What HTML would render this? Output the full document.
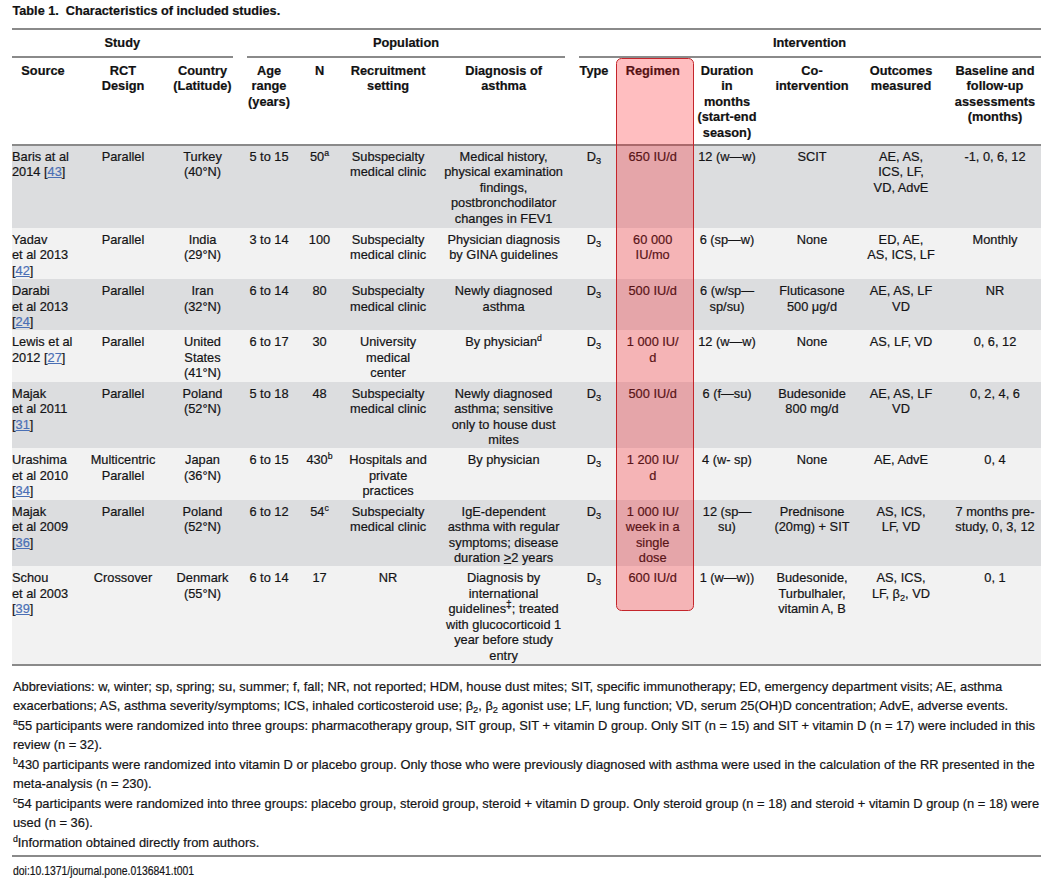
<!DOCTYPE html>
<html><head><meta charset="utf-8"><title>Table 1</title><style>
*{margin:0;padding:0;box-sizing:border-box}
html,body{width:1060px;height:893px;overflow:hidden;background:#fff}
body{position:relative;font-family:"Liberation Sans",sans-serif;color:#141416;-webkit-text-stroke:0.2px currentColor}
.bg{position:absolute;left:12px;width:1028.7px}
.r{position:absolute}
.t{position:absolute;font-size:12.8px;line-height:15.5px;white-space:nowrap}
.c{text-align:center}
.b{font-weight:bold;color:#111}
sup{font-size:0.68em;vertical-align:0.58em;line-height:0}
.dg{font-size:0.8em;vertical-align:0.45em}
sub{font-size:0.72em;vertical-align:-0.36em;line-height:0}
u{color:#4a6fb5;text-decoration:underline;text-decoration-thickness:1px;text-underline-offset:1px}
.ge{text-decoration:underline;text-decoration-thickness:1px}
.hl{position:absolute;left:616px;top:57.6px;width:78px;height:553px;border:1.2px solid #c4252b;border-radius:5.5px;background:rgba(255,20,30,0.28)}
.title{position:absolute;left:12.5px;font-size:12.7px;line-height:16px;font-weight:bold;white-space:nowrap;color:#111}
.fn{position:absolute;left:12.9px;font-size:12.9px;line-height:19.3px;white-space:nowrap}
.doi{position:absolute;left:12.5px;font-size:13px;line-height:16px;white-space:nowrap;transform:scaleX(0.80);transform-origin:0 0}
</style></head>
<body>
<div class="bg" style="top:144.6px;height:83.10px;background:#dcdddf"></div>
<div class="bg" style="top:227.7px;height:51.20px;background:#f2f2f2"></div>
<div class="bg" style="top:278.9px;height:51.30px;background:#dcdddf"></div>
<div class="bg" style="top:330.2px;height:51.40px;background:#f2f2f2"></div>
<div class="bg" style="top:381.6px;height:66.50px;background:#dcdddf"></div>
<div class="bg" style="top:448.1px;height:51.50px;background:#f2f2f2"></div>
<div class="bg" style="top:499.6px;height:66.30px;background:#dcdddf"></div>
<div class="bg" style="top:565.9px;height:98.10px;background:#f2f2f2"></div>
<div class="r" style="left:12px;width:1028.7px;top:28.0px;height:2px;background:#8a8a8a"></div>
<div class="r" style="left:12px;width:221px;top:56.2px;height:1.8px;background:#8a8a8a"></div>
<div class="r" style="left:247px;width:318px;top:56.2px;height:1.8px;background:#8a8a8a"></div>
<div class="r" style="left:579px;width:461.70000000000005px;top:56.2px;height:1.8px;background:#8a8a8a"></div>
<div class="r" style="left:12px;width:1028.7px;top:144.2px;height:1.7px;background:#8a8a8a"></div>
<div class="r" style="left:12px;width:1028.7px;top:663.6px;height:2px;background:#8a8a8a"></div>
<div class="r" style="left:12px;width:1028.7px;top:855.0px;height:2px;background:#8a8a8a"></div>
<div class="t b c" style="left:42.3px;width:160px;top:34.71px">Study</div>
<div class="t b c" style="left:326px;width:160px;top:34.71px">Population</div>
<div class="t b c" style="left:729.5px;width:160px;top:34.71px">Intervention</div>
<div class="t b c" style="left:3px;width:80px;top:62.51px">Source</div>
<div class="t b c" style="left:68.00px;width:110px;top:62.51px">RCT<br>Design</div>
<div class="t b c" style="left:162.50px;width:80px;top:62.51px">Country<br>(Latitude)</div>
<div class="t b c" style="left:239.00px;width:60px;top:62.51px">Age<br>range<br>(years)</div>
<div class="t b c" style="left:299.50px;width:40px;top:62.51px">N</div>
<div class="t b c" style="left:338.10px;width:100px;top:62.51px">Recruitment<br>setting</div>
<div class="t b c" style="left:433.60px;width:140px;top:62.51px">Diagnosis of<br>asthma</div>
<div class="t b c" style="left:574.00px;width:40px;top:62.51px">Type</div>
<div class="t b c" style="left:612.70px;width:80px;top:62.51px">Regimen</div>
<div class="t b c" style="left:687.00px;width:80px;top:62.51px">Duration<br>in<br>months<br>(start-end<br>season)</div>
<div class="t b c" style="left:762.00px;width:100px;top:62.51px">Co-<br>intervention</div>
<div class="t b c" style="left:856.00px;width:90px;top:62.51px">Outcomes<br>measured</div>
<div class="t b c" style="left:945.00px;width:100px;top:62.51px">Baseline and<br>follow-up<br>assessments<br>(months)</div>
<div class="t" style="left:12.0px;top:148.81px;text-align:left">Baris at al<br>2014 [<u>43</u>]</div>
<div class="t c" style="left:68.00px;width:110px;top:148.81px">Parallel</div>
<div class="t c" style="left:162.50px;width:80px;top:148.81px">Turkey<br>(40°N)</div>
<div class="t c" style="left:239.00px;width:60px;top:148.81px">5 to 15</div>
<div class="t c" style="left:299.50px;width:40px;top:148.81px">50<sup>a</sup></div>
<div class="t c" style="left:338.10px;width:100px;top:148.81px">Subspecialty<br>medical clinic</div>
<div class="t c" style="left:433.60px;width:140px;top:148.81px">Medical history,<br>physical examination<br>findings,<br>postbronchodilator<br>changes in FEV1</div>
<div class="t c" style="left:574.00px;width:40px;top:148.81px">D<sub>3</sub></div>
<div class="t c" style="left:612.70px;width:80px;top:148.81px">650 IU/d</div>
<div class="t c" style="left:687.00px;width:80px;top:148.81px">12 (w—w)</div>
<div class="t c" style="left:762.00px;width:100px;top:148.81px">SCIT</div>
<div class="t c" style="left:856.00px;width:90px;top:148.81px">AE, AS,<br>ICS, LF,<br>VD, AdvE</div>
<div class="t c" style="left:945.00px;width:100px;top:148.81px">-1, 0, 6, 12</div>
<div class="t" style="left:12.0px;top:231.91px;text-align:left">Yadav<br>et al 2013<br>[<u>42</u>]</div>
<div class="t c" style="left:68.00px;width:110px;top:231.91px">Parallel</div>
<div class="t c" style="left:162.50px;width:80px;top:231.91px">India<br>(29°N)</div>
<div class="t c" style="left:239.00px;width:60px;top:231.91px">3 to 14</div>
<div class="t c" style="left:299.50px;width:40px;top:231.91px">100</div>
<div class="t c" style="left:338.10px;width:100px;top:231.91px">Subspecialty<br>medical clinic</div>
<div class="t c" style="left:433.60px;width:140px;top:231.91px">Physician diagnosis<br>by GINA guidelines</div>
<div class="t c" style="left:574.00px;width:40px;top:231.91px">D<sub>3</sub></div>
<div class="t c" style="left:612.70px;width:80px;top:231.91px">60 000<br>IU/mo</div>
<div class="t c" style="left:687.00px;width:80px;top:231.91px">6 (sp—w)</div>
<div class="t c" style="left:762.00px;width:100px;top:231.91px">None</div>
<div class="t c" style="left:856.00px;width:90px;top:231.91px">ED, AE,<br>AS, ICS, LF</div>
<div class="t c" style="left:945.00px;width:100px;top:231.91px">Monthly</div>
<div class="t" style="left:12.0px;top:283.11px;text-align:left">Darabi<br>et al 2013<br>[<u>24</u>]</div>
<div class="t c" style="left:68.00px;width:110px;top:283.11px">Parallel</div>
<div class="t c" style="left:162.50px;width:80px;top:283.11px">Iran<br>(32°N)</div>
<div class="t c" style="left:239.00px;width:60px;top:283.11px">6 to 14</div>
<div class="t c" style="left:299.50px;width:40px;top:283.11px">80</div>
<div class="t c" style="left:338.10px;width:100px;top:283.11px">Subspecialty<br>medical clinic</div>
<div class="t c" style="left:433.60px;width:140px;top:283.11px">Newly diagnosed<br>asthma</div>
<div class="t c" style="left:574.00px;width:40px;top:283.11px">D<sub>3</sub></div>
<div class="t c" style="left:612.70px;width:80px;top:283.11px">500 IU/d</div>
<div class="t c" style="left:687.00px;width:80px;top:283.11px">6 (w/sp—<br>sp/su)</div>
<div class="t c" style="left:762.00px;width:100px;top:283.11px">Fluticasone<br>500 μg/d</div>
<div class="t c" style="left:856.00px;width:90px;top:283.11px">AE, AS, LF<br>VD</div>
<div class="t c" style="left:945.00px;width:100px;top:283.11px">NR</div>
<div class="t" style="left:12.0px;top:334.41px;text-align:left">Lewis et al<br>2012 [<u>27</u>]</div>
<div class="t c" style="left:68.00px;width:110px;top:334.41px">Parallel</div>
<div class="t c" style="left:162.50px;width:80px;top:334.41px">United<br>States<br>(41°N)</div>
<div class="t c" style="left:239.00px;width:60px;top:334.41px">6 to 17</div>
<div class="t c" style="left:299.50px;width:40px;top:334.41px">30</div>
<div class="t c" style="left:338.10px;width:100px;top:334.41px">University<br>medical<br>center</div>
<div class="t c" style="left:433.60px;width:140px;top:334.41px">By physician<sup>d</sup></div>
<div class="t c" style="left:574.00px;width:40px;top:334.41px">D<sub>3</sub></div>
<div class="t c" style="left:612.70px;width:80px;top:334.41px">1 000 IU/<br>d</div>
<div class="t c" style="left:687.00px;width:80px;top:334.41px">12 (w—w)</div>
<div class="t c" style="left:762.00px;width:100px;top:334.41px">None</div>
<div class="t c" style="left:856.00px;width:90px;top:334.41px">AS, LF, VD</div>
<div class="t c" style="left:945.00px;width:100px;top:334.41px">0, 6, 12</div>
<div class="t" style="left:12.0px;top:385.81px;text-align:left">Majak<br>et al 2011<br>[<u>31</u>]</div>
<div class="t c" style="left:68.00px;width:110px;top:385.81px">Parallel</div>
<div class="t c" style="left:162.50px;width:80px;top:385.81px">Poland<br>(52°N)</div>
<div class="t c" style="left:239.00px;width:60px;top:385.81px">5 to 18</div>
<div class="t c" style="left:299.50px;width:40px;top:385.81px">48</div>
<div class="t c" style="left:338.10px;width:100px;top:385.81px">Subspecialty<br>medical clinic</div>
<div class="t c" style="left:433.60px;width:140px;top:385.81px">Newly diagnosed<br>asthma; sensitive<br>only to house dust<br>mites</div>
<div class="t c" style="left:574.00px;width:40px;top:385.81px">D<sub>3</sub></div>
<div class="t c" style="left:612.70px;width:80px;top:385.81px">500 IU/d</div>
<div class="t c" style="left:687.00px;width:80px;top:385.81px">6 (f—su)</div>
<div class="t c" style="left:762.00px;width:100px;top:385.81px">Budesonide<br>800 mg/d</div>
<div class="t c" style="left:856.00px;width:90px;top:385.81px">AE, AS, LF<br>VD</div>
<div class="t c" style="left:945.00px;width:100px;top:385.81px">0, 2, 4, 6</div>
<div class="t" style="left:12.0px;top:452.31px;text-align:left">Urashima<br>et al 2010<br>[<u>34</u>]</div>
<div class="t c" style="left:68.00px;width:110px;top:452.31px">Multicentric<br>Parallel</div>
<div class="t c" style="left:162.50px;width:80px;top:452.31px">Japan<br>(36°N)</div>
<div class="t c" style="left:239.00px;width:60px;top:452.31px">6 to 15</div>
<div class="t c" style="left:299.50px;width:40px;top:452.31px">430<sup>b</sup></div>
<div class="t c" style="left:338.10px;width:100px;top:452.31px">Hospitals and<br>private<br>practices</div>
<div class="t c" style="left:433.60px;width:140px;top:452.31px">By physician</div>
<div class="t c" style="left:574.00px;width:40px;top:452.31px">D<sub>3</sub></div>
<div class="t c" style="left:612.70px;width:80px;top:452.31px">1 200 IU/<br>d</div>
<div class="t c" style="left:687.00px;width:80px;top:452.31px">4 (w- sp)</div>
<div class="t c" style="left:762.00px;width:100px;top:452.31px">None</div>
<div class="t c" style="left:856.00px;width:90px;top:452.31px">AE, AdvE</div>
<div class="t c" style="left:945.00px;width:100px;top:452.31px">0, 4</div>
<div class="t" style="left:12.0px;top:503.81px;text-align:left">Majak<br>et al 2009<br>[<u>36</u>]</div>
<div class="t c" style="left:68.00px;width:110px;top:503.81px">Parallel</div>
<div class="t c" style="left:162.50px;width:80px;top:503.81px">Poland<br>(52°N)</div>
<div class="t c" style="left:239.00px;width:60px;top:503.81px">6 to 12</div>
<div class="t c" style="left:299.50px;width:40px;top:503.81px">54<sup>c</sup></div>
<div class="t c" style="left:338.10px;width:100px;top:503.81px">Subspecialty<br>medical clinic</div>
<div class="t c" style="left:433.60px;width:140px;top:503.81px">IgE-dependent<br>asthma with regular<br>symptoms; disease<br>duration <span class="ge">&gt;</span>2 years</div>
<div class="t c" style="left:574.00px;width:40px;top:503.81px">D<sub>3</sub></div>
<div class="t c" style="left:612.70px;width:80px;top:503.81px">1 000 IU/<br>week in a<br>single<br>dose</div>
<div class="t c" style="left:687.00px;width:80px;top:503.81px">12 (sp—<br>su)</div>
<div class="t c" style="left:762.00px;width:100px;top:503.81px">Prednisone<br>(20mg) + SIT</div>
<div class="t c" style="left:856.00px;width:90px;top:503.81px">AS, ICS,<br>LF, VD</div>
<div class="t c" style="left:945.00px;width:100px;top:503.81px">7 months pre-<br>study, 0, 3, 12</div>
<div class="t" style="left:12.0px;top:570.11px;text-align:left">Schou<br>et al 2003<br>[<u>39</u>]</div>
<div class="t c" style="left:68.00px;width:110px;top:570.11px">Crossover</div>
<div class="t c" style="left:162.50px;width:80px;top:570.11px">Denmark<br>(55°N)</div>
<div class="t c" style="left:239.00px;width:60px;top:570.11px">6 to 14</div>
<div class="t c" style="left:299.50px;width:40px;top:570.11px">17</div>
<div class="t c" style="left:338.10px;width:100px;top:570.11px">NR</div>
<div class="t c" style="left:433.60px;width:140px;top:570.11px">Diagnosis by<br>international<br>guidelines<sup class="dg">‡</sup>; treated<br>with glucocorticoid 1<br>year before study<br>entry</div>
<div class="t c" style="left:574.00px;width:40px;top:570.11px">D<sub>3</sub></div>
<div class="t c" style="left:612.70px;width:80px;top:570.11px">600 IU/d</div>
<div class="t c" style="left:687.00px;width:80px;top:570.11px">1 (w—w))</div>
<div class="t c" style="left:762.00px;width:100px;top:570.11px">Budesonide,<br>Turbulhaler,<br>vitamin A, B</div>
<div class="t c" style="left:856.00px;width:90px;top:570.11px">AS, ICS,<br>LF, β<sub>2</sub>, VD</div>
<div class="t c" style="left:945.00px;width:100px;top:570.11px">0, 1</div>
<div class="hl"></div>
<div class="title" style="top:2.60px">Table 1.&nbsp; Characteristics of included studies.</div>
<div class="fn" style="top:677.28px">Abbreviations: w, winter; sp, spring; su, summer; f, fall; NR, not reported; HDM, house dust mites; SIT, specific immunotherapy; ED, emergency department visits; AE, asthma</div>
<div class="fn" style="top:696.48px">exacerbations; AS, asthma severity/symptoms; ICS, inhaled corticosteroid use; β<sub>2</sub>, β<sub>2</sub> agonist use; LF, lung function; VD, serum 25(OH)D concentration; AdvE, adverse events.</div>
<div class="fn" style="top:715.88px"><sup>a</sup>55 participants were randomized into three groups: pharmacotherapy group, SIT group, SIT + vitamin D group. Only SIT (n = 15) and SIT + vitamin D (n = 17) were included in this</div>
<div class="fn" style="top:735.08px">review (n = 32).</div>
<div class="fn" style="top:754.78px"><sup>b</sup>430 participants were randomized into vitamin D or placebo group. Only those who were previously diagnosed with asthma were used in the calculation of the RR presented in the</div>
<div class="fn" style="top:773.98px">meta-analysis (n = 230).</div>
<div class="fn" style="top:794.08px"><sup>c</sup>54 participants were randomized into three groups: placebo group, steroid group, steroid + vitamin D group. Only steroid group (n = 18) and steroid + vitamin D group (n = 18) were</div>
<div class="fn" style="top:813.28px">used (n = 36).</div>
<div class="fn" style="top:832.78px"><sup>d</sup>Information obtained directly from authors.</div>
<div class="doi" style="top:862.50px">doi:10.1371/journal.pone.0136841.t001</div>
</body></html>
